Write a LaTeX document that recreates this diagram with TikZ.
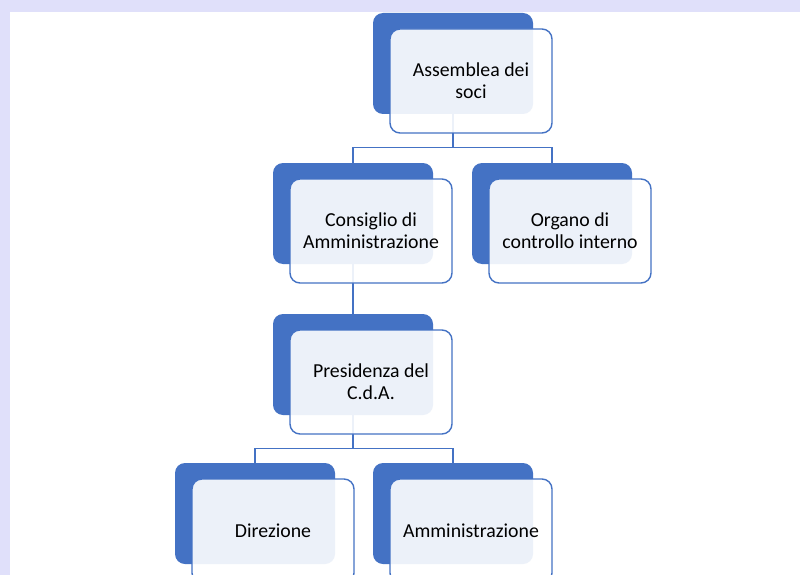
\documentclass[tikz,border=0pt]{standalone}
\usepackage{fontspec}
\setmainfont{Carlito}
\definecolor{bgl}{HTML}{E0E0FA}
\definecolor{orgblue}{HTML}{4472C4}
\tikzset{
  backbox/.style={rectangle, rounded corners=10pt, fill=orgblue, draw=none, inner sep=0pt, minimum width=160pt, minimum height=101pt},
  frontbox/.style={rectangle, rounded corners=10pt, fill=white, fill opacity=0.9, text opacity=1, draw=orgblue, line width=1.4pt, inner sep=0pt, minimum width=162pt, minimum height=104pt, align=center, font=\fontsize{19.8}{21.8}\selectfont, text=black},
  link/.style={draw=orgblue, line width=1.4pt}
}
\newcommand\orgunit[4]{%
  \node[backbox] (#1b) at (#2+80,#3+50.5) {};
}
\newcommand\orgfront[4]{%
  \node[frontbox] (#1) at (#2+98,#3+68) {#4};
}
\begin{document}
\begin{tikzpicture}[x=1pt,y=-1pt]
\useasboundingbox (0,0) rectangle (800,575);
\fill[bgl] (0,0) rectangle (800,575);
\fill[white] (10,12) rectangle (800,575);
\begin{scope}
\clip (0,0) rectangle (800,575);
\orgunit{a}{373}{13}{}
\orgunit{c}{273}{163}{}
\orgunit{o}{472}{163}{}
\orgunit{p}{273}{314}{}
\orgunit{d}{175}{463}{}
\orgunit{m}{373}{463}{}
\draw[link] (ab.south) -- ++(0,33) coordinate (j1) -| (cb.north);
\draw[link] (j1) -| (ob.north);
\draw[link] (cb.south) -- (pb.north);
\draw[link] (pb.south) -- ++(0,33) coordinate (j2) -| (db.north);
\draw[link] (j2) -| (mb.north);
\orgfront{a}{373}{13}{Assemblea dei\\soci}
\orgfront{c}{273}{163}{Consiglio di\\Amministrazione}
\orgfront{o}{472}{163}{Organo di\\controllo interno}
\orgfront{p}{273}{314}{Presidenza del\\C.d.A.}
\orgfront{d}{175}{463}{Direzione}
\orgfront{m}{373}{463}{Amministrazione}
\end{scope}
\end{tikzpicture}
\end{document}
